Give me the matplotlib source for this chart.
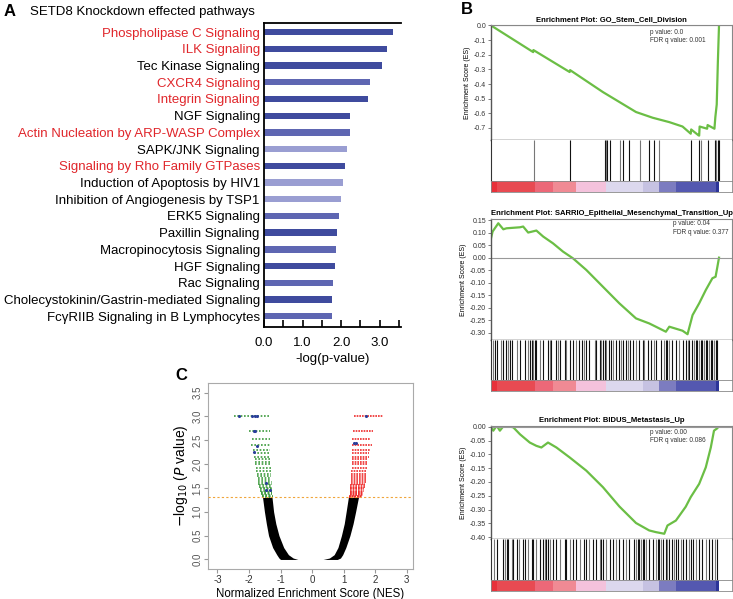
import numpy as np
import matplotlib
matplotlib.use('Agg')
import matplotlib.pyplot as plt

plt.rcParams['font.family'] = ['Liberation Sans', 'DejaVu Sans']
plt.rcParams['axes.unicode_minus'] = False

# ---- panel A data ----
pathways = ["Phospholipase C Signaling", "ILK Signaling", "Tec Kinase Signaling",
            "CXCR4 Signaling", "Integrin Signaling", "NGF Signaling",
            "Actin Nucleation by ARP-WASP Complex", "SAPK/JNK Signaling",
            "Signaling by Rho Family GTPases", "Induction of Apoptosis by HIV1",
            "Inhibition of Angiogenesis by TSP1", "ERK5 Signaling", "Paxillin Signaling",
            "Macropinocytosis Signaling", "HGF Signaling", "Rac Signaling",
            "Cholecystokinin/Gastrin-mediated Signaling", "FcγRIIB Signaling in B Lymphocytes"]
neglogp = [3.35, 3.2, 3.05, 2.75, 2.7, 2.23, 2.23, 2.15, 2.1, 2.05, 2.0, 1.94,
           1.89, 1.87, 1.84, 1.79, 1.76, 1.76]
red_paths = ["Phospholipase C Signaling", "ILK Signaling", "CXCR4 Signaling",
             "Integrin Signaling", "Actin Nucleation by ARP-WASP Complex",
             "Signaling by Rho Family GTPases"]
bar_shade = ['d', 'd', 'd', 'm', 'd', 'd', 'm', 'l', 'd', 'l', 'l', 'm', 'd', 'm', 'd', 'm', 'd', 'm']

# ---- panel B data (rank positions out of 1000) ----
titles = ["Enrichment Plot: GO_Stem_Cell_Division",
          "Enrichment Plot: SARRIO_Epithelial_Mesenchymal_Transition_Up",
          "Enrichment Plot: BIDUS_Metastasis_Up"]
stats = [("p value: 0.0", "FDR q value: 0.001"),
         ("p value: 0.04", "FDR q value: 0.377"),
         ("p value: 0.00", "FDR q value: 0.086")]

es1_rank = [0, 185, 186, 345, 347, 491, 636, 709, 782, 840, 876, 878, 910, 913, 915, 948, 950, 980, 984, 990, 995, 1000]
es1_val = [0.0, -0.182, -0.168, -0.318, -0.305, -0.455, -0.591, -0.63, -0.66, -0.69, -0.739, -0.71,
           -0.75, -0.752, -0.69, -0.705, -0.68, -0.705, -0.625, -0.54, -0.25, 0.0]
hits1 = [189, 345, 498, 505, 509, 520, 566, 581, 604, 654, 694, 716, 735, 876, 913, 921, 950, 983, 988, 994, 999]

es2_rank = [0, 7, 32, 54, 68, 127, 141, 163, 199, 229, 272, 316, 360, 418, 491, 563, 636, 694, 723,
            767, 782, 840, 862, 884, 913, 942, 971, 985, 993, 1000]
es2_val = [0.077, 0.104, 0.137, 0.113, 0.117, 0.121, 0.124, 0.1, 0.108, 0.084, 0.057, 0.024, -0.003,
           -0.049, -0.116, -0.182, -0.242, -0.262, -0.275, -0.295, -0.275, -0.291, -0.305, -0.229,
           -0.182, -0.129, -0.082, -0.076, -0.036, 0.0]
hits2 = [10, 17, 25, 42, 54, 65, 76, 83, 90, 112, 127, 149, 163, 170, 178, 185, 192, 199, 214, 228,
         250, 258, 265, 284, 294, 301, 323, 330, 345, 359, 374, 388, 400, 410, 418, 432, 454, 461,
         476, 483, 490, 498, 505, 517, 527, 537, 549, 563, 571, 581, 592, 600, 610, 621, 636, 651,
         665, 672, 687, 702, 716, 724, 745, 760, 767, 774, 782, 796, 811, 825, 840, 854, 862, 869,
         880, 891, 898, 905, 913, 920, 927, 934, 942, 949, 956, 964, 971, 978, 985, 993]

es3_rank = [0, 10, 25, 39, 54, 68, 98, 127, 170, 199, 221, 250, 287, 345, 418, 491, 563, 636, 694,
            723, 760, 774, 811, 854, 876, 913, 942, 964, 978, 993, 1000]
es3_val = [-0.002, -0.014, 0.004, -0.014, 0.002, 0.004, -0.002, -0.027, -0.057, -0.069, -0.075,
           -0.057, -0.075, -0.111, -0.159, -0.219, -0.289, -0.349, -0.376, -0.382, -0.388, -0.358,
           -0.34, -0.29, -0.255, -0.207, -0.147, -0.075, -0.014, -0.005, 0.007]
hits3 = [13, 25, 51, 61, 68, 76, 90, 98, 112, 124, 141, 148, 163, 178, 185, 199, 214, 229, 236, 243,
         250, 258, 272, 287, 301, 323, 330, 345, 360, 374, 389, 410, 418, 432, 447, 461, 476, 483,
         491, 505, 520, 534, 549, 563, 578, 592, 607, 629, 636, 643, 651, 658, 665, 672, 680, 694,
         709, 723, 731, 738, 745, 753, 767, 774, 782, 796, 803, 811, 818, 833, 840, 854, 869, 876,
         884, 898, 913, 927, 942, 956, 971, 983, 993]

cbar_edges = [0, 25, 192, 272, 374, 505, 665, 738, 811, 985, 1000]
cbar_cols = ['#E8303A', '#E84A52', '#EC6878', '#F08A94', '#F4C2DC', '#DCD8EE', '#C6C2E2',
             '#7C7CC0', '#5458B0', '#2C3498']

# ---- panel C data ----
pvals = [0.001, 0.002, 0.003, 0.004, 0.005, 0.006, 0.007, 0.008, 0.009, 0.010, 0.012, 0.014,
         0.016, 0.018, 0.020, 0.022, 0.024, 0.026, 0.028, 0.030, 0.032, 0.034, 0.036, 0.038,
         0.040, 0.042, 0.044, 0.046, 0.048, 0.050]
neg_lo = [-2.46, -2.0, -1.9, -1.95, -1.87, -1.85, -1.85, -1.82, -1.8, -1.8, -1.78, -1.78, -1.75,
          -1.75, -1.72, -1.72, -1.7, -1.7, -1.68, -1.68, -1.66, -1.65, -1.64, -1.63, -1.62, -1.61,
          -1.6, -1.6, -1.59, -1.58]
neg_hi = [-1.35, -1.35, -1.34, -1.32, -1.32, -1.32, -1.32, -1.31, -1.31, -1.31, -1.3, -1.3, -1.3,
          -1.29, -1.29, -1.29, -1.28, -1.28, -1.28, -1.27, -1.27, -1.27, -1.27, -1.26, -1.26,
          -1.26, -1.26, -1.25, -1.25, -1.25]
pos_lo = [1.32, 1.29, 1.28, 1.25, 1.27, 1.27, 1.26, 1.26, 1.25, 1.25, 1.25, 1.24, 1.24, 1.23,
          1.23, 1.22, 1.22, 1.22, 1.21, 1.21, 1.21, 1.2, 1.2, 1.2, 1.19, 1.19, 1.19, 1.18, 1.18, 1.18]
pos_hi = [2.24, 1.92, 1.85, 1.89, 1.83, 1.8, 1.8, 1.78, 1.78, 1.76, 1.75, 1.75, 1.74, 1.73, 1.72,
          1.71, 1.7, 1.69, 1.68, 1.67, 1.66, 1.65, 1.64, 1.63, 1.62, 1.61, 1.6, 1.59, 1.58, 1.57]
blue_nes = [-2.32, -1.9, -1.8, -1.75, -1.85, -1.8, -1.75, -1.85, -1.45, -1.35, -1.45, 1.7, 1.33, 1.38]
blue_y = [3.0, 3.0, 3.0, 3.0, 2.7, 2.7, 2.38, 2.25, 1.6, 1.45, 1.45, 3.0, 2.45, 2.45]
# non-significant arms (envelopes)
ns_y = [0, 0.03, 0.1, 0.25, 0.5, 0.75, 1.0, 1.3]
left_outer = [-1.0, -1.05, -1.12, -1.25, -1.38, -1.45, -1.51, -1.57]
left_inner = [-0.45, -0.6, -0.75, -0.9, -1.05, -1.15, -1.22, -1.27]
right_inner = [0.35, 0.55, 0.7, 0.82, 0.93, 1.02, 1.08, 1.15]
right_outer = [0.8, 0.9, 0.97, 1.07, 1.2, 1.3, 1.38, 1.47]

W, H = 733, 599
fig = plt.figure(figsize=(W / 100, H / 100), dpi=100)


def px(l, t, r, b):
    return [l / W, 1 - b / H, (r - l) / W, (b - t) / H]


# ================= A =================
axA = fig.add_axes(px(264, 23, 401, 327))
shade = {'d': '#3F4B9E', 'm': '#5E66B2', 'l': '#9A9ED2'}
ypos = np.arange(len(pathways))
axA.barh(ypos, neglogp, height=0.38, color=[shade[s] for s in bar_shade], clip_on=False)
axA.set_ylim(len(pathways) - 0.35, -0.55)
axA.set_xlim(0, 3.55)
axA.set_yticks(ypos)
axA.set_yticklabels(pathways, fontsize=9.5)
for lab in axA.get_yticklabels():
    if lab.get_text() in red_paths:
        lab.set_color('#E0262B')
axA.tick_params(axis='y', length=0, pad=3)
axA.set_xticks([0, 1, 2, 3])
axA.set_xticklabels(['0.0', '1.0', '2.0', '3.0'], fontsize=9.5)
axA.set_xticks([0.5, 1.5, 2.5, 3.5], minor=True)
axA.tick_params(axis='x', which='both', direction='in', length=5, width=1.2, pad=7)
axA.spines['right'].set_visible(False)
for s in ['left', 'bottom', 'top']:
    axA.spines[s].set_linewidth(1.3)
axA.set_xlabel('-log(p-value)', fontsize=9.5, labelpad=3)
fig.text(4 / W, 1 - 12 / H, 'A', fontsize=12, fontweight='bold', va='center')
fig.text(30 / W, 1 - 12 / H, 'SETD8 Knockdown effected pathways', fontsize=9.5, va='center')

# ================= B =================
fig.text(461 / W, 1 - 10 / H, 'B', fontsize=12, fontweight='bold', va='center')
boxes = [(25, 140, 181, 192), (219, 340, 380, 391), (426, 539, 580, 591)]
es_ranks = [es1_rank, es2_rank, es3_rank]
es_vals = [es1_val, es2_val, es3_val]
hit_sets = [hits1, hits2, hits3]
ylims = [(-0.782, 0.003), (-0.328, 0.154), (-0.407, 0.003)]
yticks = [np.arange(0, -0.71, -0.1), np.arange(0.15, -0.31, -0.05), np.arange(0, -0.41, -0.05)]
yfmt = ['%.1f', '%.2f', '%.2f']
stat_pos = [(650, 32), (673, 223), (650, 432)]
xmax = 1057
for i in range(3):
    t, m, hb, cb = boxes[i]
    ax = fig.add_axes(px(491, t, 732, m))
    ax.plot(es_ranks[i], es_vals[i], color='#6BBE45', lw=1.6)
    ax.axhline(0, color='#999999', lw=0.8)
    ax.set_xlim(0, xmax)
    ax.set_ylim(*ylims[i])
    ax.set_xticks([])
    ax.set_yticks(yticks[i])
    ax.set_yticklabels([yfmt[i] % v if abs(v) > 1e-9 else yfmt[i] % 0 for v in yticks[i]],
                       fontsize=5, color='#333333')
    ax.tick_params(axis='y', length=2, width=0.6, pad=1.5, color='#666666')
    for s in ['top', 'right']:
        ax.spines[s].set_color('#888888')
        ax.spines[s].set_linewidth(0.8)
    ax.spines['left'].set_color('#555555')
    ax.spines['left'].set_linewidth(1.0)
    ax.spines['bottom'].set_color('#222222')
    ax.spines['bottom'].set_linewidth(1.0)
    ax.set_ylabel('Enrichment Score (ES)', fontsize=5, labelpad=2)
    ax.set_title(titles[i], fontsize=5.5, fontweight='bold', pad=3)
    fig.text(stat_pos[i][0] / W, 1 - stat_pos[i][1] / H, stats[i][0], fontsize=4.7, color='#333333', va='center')
    fig.text(stat_pos[i][0] / W, 1 - (stat_pos[i][1] + 9) / H, stats[i][1], fontsize=4.7, color='#333333', va='center')

    axh = fig.add_axes(px(491, m, 732, hb))
    cols = ['#111111' if k % 3 else '#777777' for k in range(len(hit_sets[i]))]
    axh.vlines(hit_sets[i], 0, 1, colors=cols, lw=0.8)
    axh.set_xlim(0, xmax)
    axh.set_ylim(0, 1)
    axh.set_xticks([])
    axh.set_yticks([])
    axh.spines['top'].set_visible(False)
    axh.spines['left'].set_color('#333333')
    for s in ['right', 'bottom']:
        axh.spines[s].set_color('#888888')
        axh.spines[s].set_linewidth(0.6)

    axc = fig.add_axes(px(491, hb, 732, cb))
    axc.barh(0, np.diff(cbar_edges), left=cbar_edges[:-1], height=1, color=cbar_cols, align='edge')
    axc.set_xlim(0, xmax)
    axc.set_ylim(0, 1)
    axc.set_xticks([])
    axc.set_yticks([])
    for s in axc.spines.values():
        s.set_color('#888888')
        s.set_linewidth(0.6)

# ================= C =================
axC = fig.add_axes(px(208, 383, 413, 569))
axC.fill_betweenx(ns_y, left_outer, left_inner, color='black', lw=0)
axC.fill_betweenx(ns_y, right_inner, right_outer, color='black', lw=0)
ylev = -np.log10(pvals)
axC.hlines(ylev, neg_lo, neg_hi, colors='#3C9A3C', lw=1.2, linestyles=(0, (1, 1)))
axC.hlines(ylev, pos_lo, pos_hi, colors='#EE2A2A', lw=1.2, linestyles=(0, (1, 0.6)))
axC.scatter(blue_nes, blue_y, s=5, color='#2A3F9A', zorder=3, lw=0)
axC.axhline(-np.log10(0.05), color='#F0A53A', lw=0.8, ls=(0, (2, 2)), zorder=4)
axC.set_xlim(-3.3, 3.2)
axC.set_ylim(-0.2, 3.7)
axC.set_xticks([-3, -2, -1, 0, 1, 2, 3])
axC.set_yticks(np.arange(0, 3.6, 0.5))
axC.set_yticklabels(['%.1f' % v for v in np.arange(0, 3.6, 0.5)], rotation=90, va='center',
                    fontsize=7, color='#555555')
axC.tick_params(axis='x', labelsize=7, labelcolor='#333333', length=3, color='#999999', pad=1.5)
axC.tick_params(axis='y', length=3, color='#999999', pad=1)
for s in axC.spines.values():
    s.set_color('#AAAAAA')
    s.set_linewidth(0.8)
axC.set_xlabel('Normalized Enrichment Score (NES)', fontsize=8.3, labelpad=2)
axC.set_ylabel('$-$log$_{10}$ ($\\it{P}$ value)', fontsize=10, labelpad=2)
fig.text(175 / W, 1 - 375 / H, 'C', fontsize=12, fontweight='bold', va='center')

fig.savefig('out.png', dpi=100)
